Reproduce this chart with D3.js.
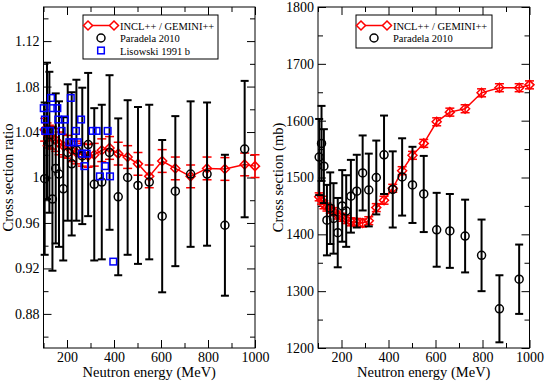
<!DOCTYPE html>
<html>
<head>
<meta charset="utf-8">
<script src="https://cdn.jsdelivr.net/npm/d3@7"></script>
<style>
body { margin: 0; background: #fff; }
svg { display: block; }
text { font-family: "Liberation Serif", "Times New Roman", serif; }
</style>
</head>
<body>
<script>

// Paradela 2010 energies (MeV), shared by both panels
var energies = [105,115,125,138,152,166,184,203,220,240,265,290,316,348,381,418,458,502,550,605,661,726,796,872,956];

// left panel: cross section ratio
var ratioParadela = [0.999,1.041,1.031,0.981,1.008,1.003,0.990,1.022,1.012,1.024,1.019,1.029,0.994,0.996,1.022,0.983,1.000,0.993,0.996,0.966,0.988,1.003,1.003,0.958,1.025];
var ratioParadelaErr = [0.067,0.060,0.062,0.063,0.066,0.064,0.063,0.060,0.063,0.062,0.060,0.063,0.067,0.068,0.068,0.069,0.068,0.069,0.068,0.067,0.066,0.064,0.063,0.062,0.060];

// right panel: cross section (mb)
var xsParadela = [1536,1560,1520,1425,1446,1428,1403,1450,1441,1467,1476,1508,1478,1500,1540,1479,1501,1487,1471,1408,1406,1397,1363,1269,1321];
var xsParadelaErr = [67,66,65,62,63,62,61,63,63,64,64,66,64,65,69,67,68,67,67,65,65,64,63,59,61];

// INCL++ / GEMINI++
var modelEnergies = [105,115,125,138,152,166,184,203,220,240,265,290,316,348,381,418,458,502,550,605,661,726,796,872,956,1000];
var modelRatio = [1.042,1.038,1.036,1.035,1.033,1.030,1.028,1.027,1.024,1.022,1.020,1.019,1.020,1.024,1.026,1.021,1.018,1.012,1.001,1.0145,1.008,1.001,1.008,1.0075,1.0115,1.010];
var modelRatioErr = [0.010,0.010,0.010,0.010,0.010,0.010,0.010,0.010,0.010,0.010,0.010,0.010,0.010,0.010,0.010,0.010,0.010,0.010,0.010,0.010,0.010,0.010,0.010,0.010,0.010,0.010];
var modelXs = [1466,1460,1452,1448,1444,1440,1434,1430,1426,1422,1421,1420,1424,1447,1460,1481,1512,1539,1560,1598,1615,1621,1649,1658,1658,1663];
var modelXsErr = [7,7,7,7,7,7,7,7,7,7,7,7,7,7,7,7,7,7,7,7,7,7,7,7,7,7];

// Lisowski 1991 b (ratio only)
var lisEnergies = [101,106,107,128,132,139,159,163,177,191,210,216,227,238,246,260,263,274,284,309,326,340,362,373,383,397];
var lisRatio = [1.061,1.051,1.041,1.041,1.070,1.061,1.061,1.051,1.041,1.051,1.031,1.070,1.031,1.041,1.031,1.051,1.021,1.010,1.021,1.041,1.041,1.001,1.010,1.041,1.001,0.926];

// ticks
var xMajor = [200,400,600,800,1000];
var xMinor = [100,300,500,700,900];
var ratioMajor = [0.88,0.92,0.96,1,1.04,1.08,1.12];
var ratioLabels = ["0.88","0.92","0.96","1","1.04","1.08","1.12"];
var ratioMinor = [0.86,0.90,0.94,0.98,1.02,1.06,1.10,1.14];
var xsMajor = [1200,1300,1400,1500,1600,1700,1800];
var xsLabels = ["1200","1300","1400","1500","1600","1700","1800"];
var xsMinor = [1250,1350,1450,1550,1650,1750];

var width = 545, height = 381;
var serif = "'Liberation Serif', 'Times New Roman', serif";

var svg = d3.select("body").append("svg")
	.attr("width", width)
	.attr("height", height);

svg.append("rect").attr("width", width).attr("height", height).attr("fill", "#fff");

// hollow diamond marker (square turned 45 degrees)
var diamond = function(r){
	return "M0," + (-r) + "L" + r + ",0L0," + r + "L" + (-r) + ",0Z";
};

var drawPanel = function(cfg){
	var x = d3.scaleLinear().domain([100, 1000]).range([cfg.left, cfg.right]);
	var y = d3.scaleLinear().domain(cfg.yDomain).range([348, 7]);
	var g = svg.append("g");

	// axes, ticks inside on all four sides
	var addAxis = function(axis, tx, ty, labels){
		var a = g.append("g").attr("transform", "translate(" + tx + "," + ty + ")").call(axis);
		a.select(".domain").remove();
		a.selectAll("line").attr("stroke", "#000").attr("stroke-width", 1);
		a.selectAll("text").attr("fill", "#000").style("font-size", "14px").style("font-family", serif);
		if (!labels) a.selectAll("text").remove();
		return a;
	};
	addAxis(d3.axisBottom(x).tickValues(xMajor).tickSize(-8).tickPadding(4).tickFormat(d3.format("d")), 0, 348, true);
	addAxis(d3.axisBottom(x).tickValues(xMinor).tickSize(-5).tickFormat(""), 0, 348, false);
	addAxis(d3.axisTop(x).tickValues(xMajor).tickSize(-8), 0, 7, false);
	addAxis(d3.axisTop(x).tickValues(xMinor).tickSize(-5), 0, 7, false);
	addAxis(d3.axisLeft(y).tickValues(cfg.yMajor).tickSize(-8).tickPadding(4)
		.tickFormat(function(d, i){ return cfg.yLabels[i]; }), cfg.left, 0, true);
	addAxis(d3.axisLeft(y).tickValues(cfg.yMinor).tickSize(-5), cfg.left, 0, false);
	addAxis(d3.axisRight(y).tickValues(cfg.yMajor).tickSize(-8), cfg.right, 0, false);
	addAxis(d3.axisRight(y).tickValues(cfg.yMinor).tickSize(-5), cfg.right, 0, false);

	g.append("rect")
		.attr("x", cfg.left).attr("y", 7)
		.attr("width", cfg.right - cfg.left).attr("height", 341)
		.attr("fill", "none").attr("stroke", "#000").attr("stroke-width", 1);

	// model: line, error bars, diamonds
	var model = modelEnergies.map(function(e, i){ return {e: e, v: cfg.model[i], err: cfg.modelErr[i]}; });
	var line = d3.line().x(function(d){ return x(d.e); }).y(function(d){ return y(d.v); });
	g.append("path").datum(model).attr("d", line)
		.attr("fill", "none").attr("stroke", "#ff0000").attr("stroke-width", 1.5);
	var mErr = g.append("g").attr("stroke", "#ff0000").attr("stroke-width", 1.5);
	model.forEach(function(d){
		var cx = x(d.e), y0 = y(d.v - d.err), y1 = y(d.v + d.err);
		mErr.append("line").attr("x1", cx).attr("x2", cx).attr("y1", y0).attr("y2", y1);
		mErr.append("line").attr("x1", cx - 4.5).attr("x2", cx + 4.5).attr("y1", y0).attr("y2", y0);
		mErr.append("line").attr("x1", cx - 4.5).attr("x2", cx + 4.5).attr("y1", y1).attr("y2", y1);
	});
	g.selectAll(".dia").data(model).enter().append("path")
		.attr("d", diamond(4.5))
		.attr("transform", function(d){ return "translate(" + x(d.e) + "," + y(d.v) + ")"; })
		.attr("fill", "none").attr("stroke", "#ff0000").attr("stroke-width", 1.5);

	// Paradela 2010
	var para = energies.map(function(e, i){ return {e: e, v: cfg.para[i], err: cfg.paraErr[i]}; });
	var pErr = g.append("g").attr("stroke", "#000").attr("stroke-width", 2);
	para.forEach(function(d){
		var cx = x(d.e), y0 = y(d.v - d.err), y1 = y(d.v + d.err);
		pErr.append("line").attr("x1", cx).attr("x2", cx).attr("y1", y0).attr("y2", y1);
		pErr.append("line").attr("x1", cx - 4).attr("x2", cx + 4).attr("y1", y0).attr("y2", y0);
		pErr.append("line").attr("x1", cx - 4).attr("x2", cx + 4).attr("y1", y1).attr("y2", y1);
	});
	g.selectAll(".circ").data(para).enter().append("circle")
		.attr("cx", function(d){ return x(d.e); })
		.attr("cy", function(d){ return y(d.v); })
		.attr("r", 4)
		.attr("fill", "none").attr("stroke", "#000").attr("stroke-width", 1.5);

	// Lisowski
	if (cfg.lis) {
		g.selectAll(".sq").data(lisEnergies).enter().append("rect")
			.attr("x", function(d){ return x(d) - 3.3; })
			.attr("y", function(d, i){ return y(lisRatio[i]) - 3.3; })
			.attr("width", 6.6).attr("height", 6.6)
			.attr("fill", "none").attr("stroke", "#0000ff").attr("stroke-width", 1.5);
	}

	// axis titles
	g.append("text")
		.attr("x", (cfg.left + cfg.right) / 2).attr("y", 377)
		.attr("text-anchor", "middle").style("font-size", "14.5px").style("font-family", serif)
		.text("Neutron energy (MeV)");
	g.append("text")
		.attr("transform", "translate(" + cfg.titleX + ",177.5) rotate(-90)")
		.attr("text-anchor", "middle").style("font-size", "14.5px").style("font-family", serif)
		.text(cfg.yTitle);

	// legend
	var lg = g.append("g");
	lg.append("rect")
		.attr("x", cfg.legend.x).attr("y", 15)
		.attr("width", cfg.legend.w).attr("height", cfg.legend.h)
		.attr("fill", "#fff").attr("stroke", "#000").attr("stroke-width", 1);
	var lx0 = cfg.legend.x + 5, lx1 = cfg.legend.x + 31, lt = cfg.legend.x + 37, lm = (lx0 + lx1) / 2;
	lg.append("line").attr("x1", lx0).attr("x2", lx1).attr("y1", 25.5).attr("y2", 25.5)
		.attr("stroke", "#ff0000").attr("stroke-width", 1.5);
	[lx0, lx1].forEach(function(px){
		lg.append("path").attr("d", diamond(4.5)).attr("transform", "translate(" + px + ",25.5)")
			.attr("fill", "#fff").attr("stroke", "#ff0000").attr("stroke-width", 1.5);
	});
	lg.append("circle").attr("cx", lm).attr("cy", 38).attr("r", 4)
		.attr("fill", "none").attr("stroke", "#000").attr("stroke-width", 1.5);
	var names = ["INCL++ / GEMINI++", "Paradela 2010"];
	if (cfg.lis) {
		names.push("Lisowski 1991 b");
		lg.append("rect").attr("x", lm - 3.3).attr("y", 50.5 - 3.3).attr("width", 6.6).attr("height", 6.6)
			.attr("fill", "none").attr("stroke", "#0000ff").attr("stroke-width", 1.5);
	}
	names.forEach(function(n, i){
		lg.append("text").attr("x", lt).attr("y", 29.5 + i * 12.5)
			.style("font-size", "10.5px").style("font-family", serif).text(n);
	});
};

drawPanel({
	left: 43.5, right: 255,
	yDomain: [0.85, 1.15], yMajor: ratioMajor, yLabels: ratioLabels, yMinor: ratioMinor,
	model: modelRatio, modelErr: modelRatioErr,
	para: ratioParadela, paraErr: ratioParadelaErr,
	lis: true,
	yTitle: "Cross section ratio", titleX: 13,
	legend: {x: 83, w: 135, h: 44}
});

drawPanel({
	left: 318, right: 529.5,
	yDomain: [1200, 1800], yMajor: xsMajor, yLabels: xsLabels, yMinor: xsMinor,
	model: modelXs, modelErr: modelXsErr,
	para: xsParadela, paraErr: xsParadelaErr,
	lis: false,
	yTitle: "Cross section (mb)", titleX: 283,
	legend: {x: 356, w: 136, h: 33}
});

</script>
</body>
</html>
